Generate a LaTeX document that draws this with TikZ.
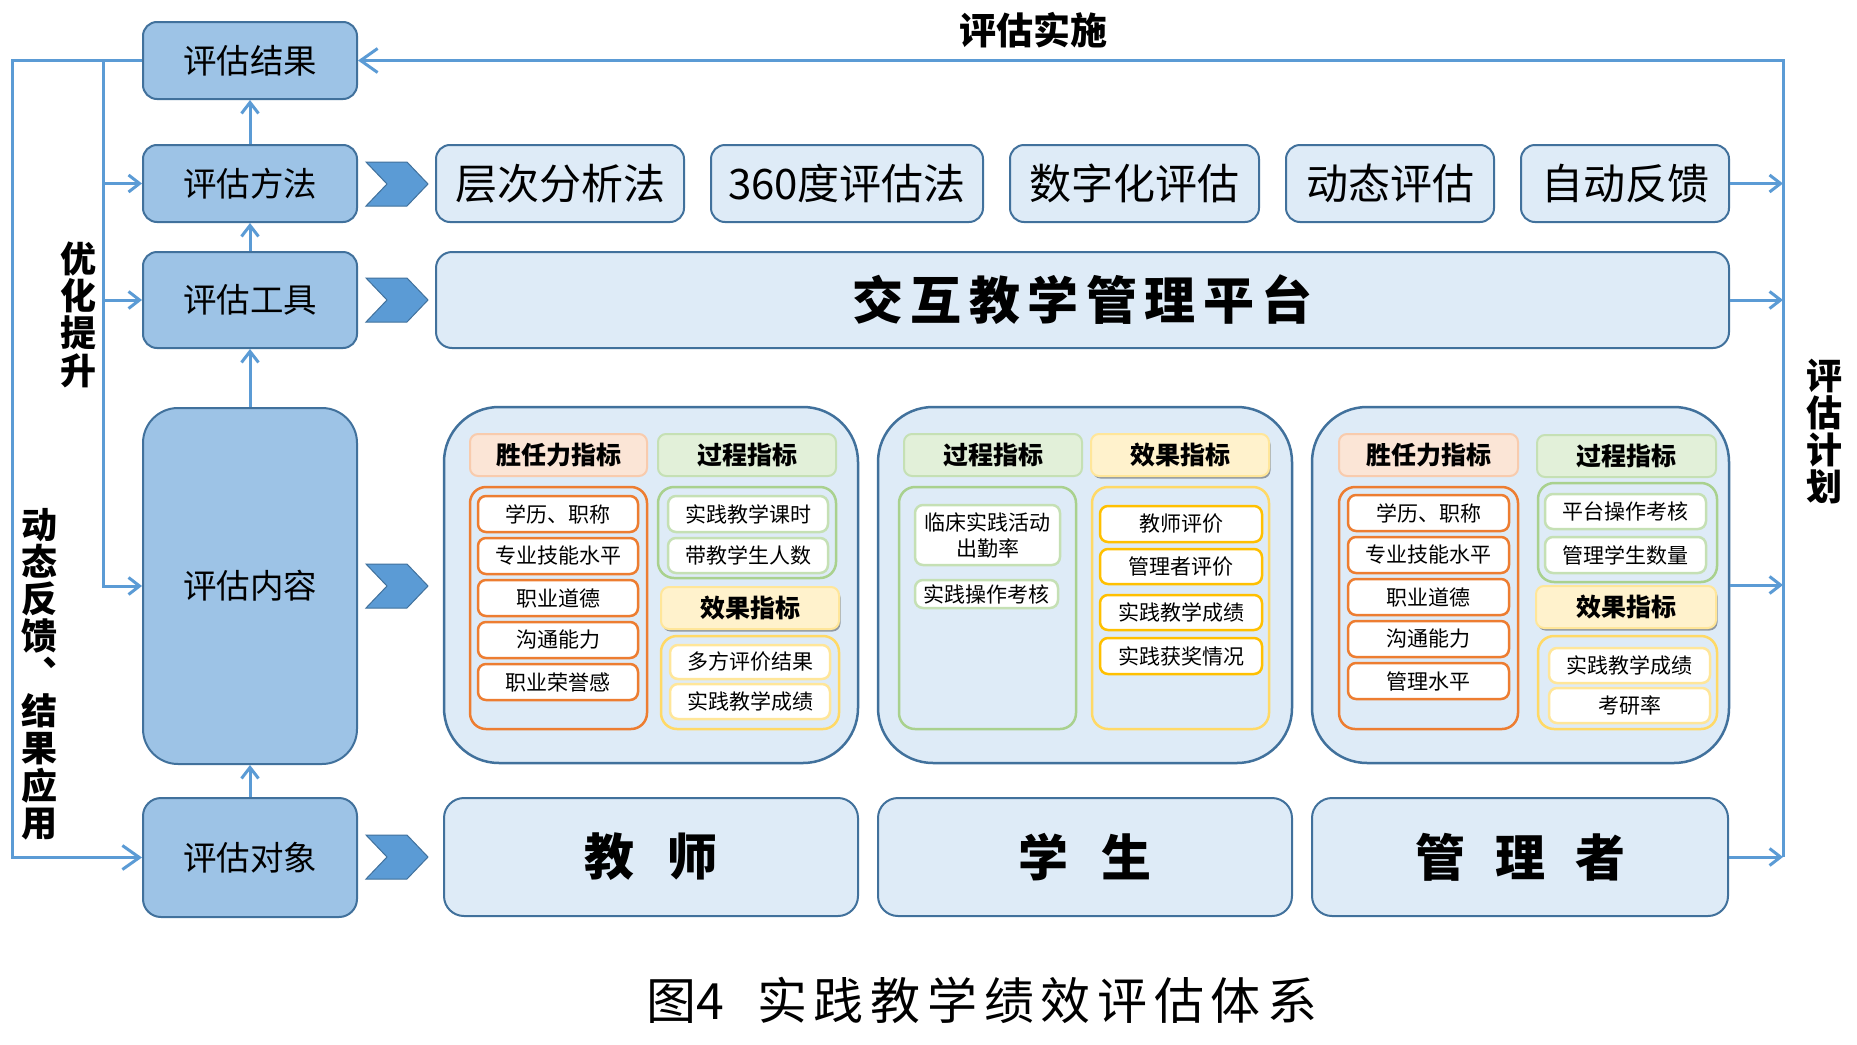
\documentclass[tikz,border=0pt]{standalone}
\usepackage{fontspec}
\setmainfont{Noto Sans CJK SC}
\usetikzlibrary{arrows.meta,shadows}
\definecolor{dkfill}{HTML}{9DC3E6}
\definecolor{bord}{HTML}{41719C}
\definecolor{ltfill}{HTML}{DEEBF7}
\definecolor{cblue}{HTML}{5B9BD5}
\definecolor{chevfill}{HTML}{5B9BD5}
\definecolor{peachF}{HTML}{FBE5D6}
\definecolor{peachB}{HTML}{F8CBAD}
\definecolor{greenF}{HTML}{E2F0D9}
\definecolor{greenB}{HTML}{C5E0B4}
\definecolor{greenC}{HTML}{A9D18E}
\definecolor{yelF}{HTML}{FFF2CC}
\definecolor{yelB}{HTML}{FFE699}
\definecolor{yelC}{HTML}{FFD966}
\definecolor{orangeB}{HTML}{ED7D31}
\definecolor{goldB}{HTML}{FFC000}
\newcommand\mkbox[7]{%
  \pgfmathsetmacro\mkw{#5-#3}%
  \pgfmathsetmacro\mkh{#6-#4}%
  \pgfmathsetmacro\mkx{(#3+#5)/2}%
  \pgfmathsetmacro\mky{(#4+#6)/2}%
  \node[#2,minimum width=\mkw pt,minimum height=\mkh pt,inner sep=0pt] (#1) at (\mkx,\mky) {#7};}
\newcommand\mkchev[1]{%
  \draw[fill=chevfill,draw=bord,line width=1pt] (366,#1-22) -- (407,#1-22) -- (428,#1) -- (407,#1+22) -- (366,#1+22) -- (387,#1) -- cycle;}
\tikzset{
  darkbox/.style={draw=bord,fill=dkfill,line width=2pt,rounded corners=14pt,font=\fontsize{33.5}{40}\selectfont},
  litebox/.style={draw=bord,fill=ltfill,line width=2pt,rounded corners=14pt,font=\fontsize{42}{48}\selectfont},
  panelbox/.style={draw=bord,fill=ltfill,line width=2.5pt,rounded corners=55pt},
  hdr/.style={line width=2pt,rounded corners=8pt,font=\bfseries\fontsize{25}{30}\selectfont},
  hpeach/.style={hdr,draw=peachB,fill=peachF},
  hgreen/.style={hdr,draw=greenB,fill=greenF},
  hyel/.style={hdr,draw=yelB,fill=yelF,drop shadow={shadow xshift=1.5pt,shadow yshift=-2.5pt,fill=black,opacity=0.35}},
  grpbox/.style={line width=2.5pt,rounded corners=16pt,fill=ltfill},
  gorange/.style={grpbox,draw=orangeB},
  ggreen/.style={grpbox,draw=greenC},
  gyel/.style={grpbox,draw=yelC},
  itembox/.style={fill=white,rounded corners=8pt,line width=2.5pt,font=\fontsize{21}{26}\selectfont,align=center},
  iorange/.style={itembox,draw=orangeB},
  igreen/.style={itembox,draw=greenB},
  iyel/.style={itembox,draw=yelB},
  igold/.style={itembox,draw=goldB},
  cline/.style={draw=cblue,line width=3pt},
  sarr/.style={-{Straight Barb[length=11pt,width=17pt]}},
  barr/.style={-{Straight Barb[length=17pt,width=24pt]}},
  vlab/.style={font=\bfseries\fontsize{36}{37.3}\selectfont,align=center,inner sep=0pt},
}
\begin{document}
\begin{tikzpicture}[x=1pt,y=-1pt]
\fill[white] (0,0) rectangle (1857,1044);
\useasboundingbox (0,0) rectangle (1857,1044);

% left column
\mkbox{res}{darkbox}{143}{22}{357}{99}{评估结果}
\mkbox{meth}{darkbox}{143}{145}{357}{222}{评估方法}
\mkbox{tool}{darkbox}{143}{252}{357}{348}{评估工具}
\mkbox{cont}{darkbox,rounded corners=35pt}{143}{408}{357}{764}{评估内容}
\mkbox{obj}{darkbox,rounded corners=18pt}{143}{798}{357}{917}{评估对象}

% chevrons
\mkchev{184}
\mkchev{300}
\mkchev{586}
\mkchev{857}

% method row
\mkbox{m1}{litebox}{436}{145}{684}{222}{层次分析法}
\mkbox{m2}{litebox}{711}{145}{983}{222}{360度评估法}
\mkbox{m3}{litebox}{1010}{145}{1259}{222}{数字化评估}
\mkbox{m4}{litebox}{1286}{145}{1494}{222}{动态评估}
\mkbox{m5}{litebox}{1521}{145}{1729}{222}{自动反馈}

% platform
\mkbox{plat}{litebox,rounded corners=16pt,font=\bfseries\fontsize{51}{56}\selectfont}{436}{252}{1729}{348}{交\hspace{7.5pt}互\hspace{7.5pt}教\hspace{7.5pt}学\hspace{7.5pt}管\hspace{7.5pt}理\hspace{7.5pt}平\hspace{7.5pt}台}

% panels
\mkbox{p1}{panelbox}{444}{407}{858}{763}{}
\mkbox{p2}{panelbox}{878}{407}{1292}{763}{}
\mkbox{p3}{panelbox}{1312}{407}{1729}{763}{}

% panel 1
\mkbox{p1h1}{hpeach}{470}{434}{647}{476}{胜任力指标}
\mkbox{p1h2}{hgreen}{658}{434}{836}{476}{过程指标}
\mkbox{p1g1}{gorange}{470}{487}{647}{729}{}
\mkbox{p1a}{iorange}{478}{496}{638}{532}{学历、职称}
\mkbox{p1b}{iorange}{478}{538}{638}{574}{专业技能水平}
\mkbox{p1c}{iorange}{478}{580}{638}{616}{职业道德}
\mkbox{p1d}{iorange}{478}{622}{638}{658}{沟通能力}
\mkbox{p1e}{iorange}{478}{664}{638}{700}{职业荣誉感}
\mkbox{p1g2}{ggreen}{658}{487}{836}{578}{}
\mkbox{p1f}{igreen}{668}{496}{828}{532}{实践教学课时}
\mkbox{p1g}{igreen}{668}{538}{828}{573}{带教学生人数}
\mkbox{p1h3}{hyel}{661}{587}{839}{629}{效果指标}
\mkbox{p1g3}{gyel}{661}{636}{839}{729}{}
\mkbox{p1h}{iyel}{670}{645}{830}{679}{多方评价结果}
\mkbox{p1i}{iyel}{670}{684}{830}{719}{实践教学成绩}

% panel 2
\mkbox{p2h1}{hgreen}{904}{434}{1082}{476}{过程指标}
\mkbox{p2h2}{hyel}{1091}{434}{1269}{476}{效果指标}
\mkbox{p2g1}{ggreen}{899}{487}{1076}{729}{}
\mkbox{p2a}{igreen}{915}{505}{1060}{565}{临床实践活动\\出勤率}
\mkbox{p2b}{igreen}{915}{580}{1058}{608}{实践操作考核}
\mkbox{p2g2}{gyel}{1092}{487}{1269}{729}{}
\mkbox{p2c}{igold}{1100}{506}{1262}{542}{教师评价}
\mkbox{p2d}{igold}{1100}{549}{1262}{584}{管理者评价}
\mkbox{p2e}{igold}{1100}{595}{1262}{630}{实践教学成绩}
\mkbox{p2f}{igold}{1100}{638}{1262}{674}{实践获奖情况}

% panel 3
\mkbox{p3h1}{hpeach}{1339}{434}{1518}{476}{胜任力指标}
\mkbox{p3h2}{hgreen}{1537}{435}{1716}{477}{过程指标}
\mkbox{p3g1}{gorange}{1339}{487}{1518}{729}{}
\mkbox{p3a}{iorange}{1348}{495}{1509}{531}{学历、职称}
\mkbox{p3b}{iorange}{1348}{537}{1509}{573}{专业技能水平}
\mkbox{p3c}{iorange}{1348}{579}{1509}{615}{职业道德}
\mkbox{p3d}{iorange}{1348}{621}{1509}{657}{沟通能力}
\mkbox{p3e}{iorange}{1348}{663}{1509}{699}{管理水平}
\mkbox{p3g2}{ggreen}{1538}{483}{1717}{582}{}
\mkbox{p3f}{igreen}{1545}{494}{1706}{529}{平台操作考核}
\mkbox{p3g}{igreen}{1545}{537}{1706}{573}{管理学生数量}
\mkbox{p3h3}{hyel}{1536}{586}{1716}{628}{效果指标}
\mkbox{p3g3}{gyel}{1538}{636}{1717}{729}{}
\mkbox{p3h}{iyel}{1549}{648}{1710}{683}{实践教学成绩}
\mkbox{p3i}{iyel}{1549}{688}{1710}{723}{考研率}

% bottom row
\mkbox{tch}{litebox,rounded corners=20pt,font=\bfseries\fontsize{50}{56}\selectfont}{444}{798}{858}{916}{教\hspace{33pt}师}
\mkbox{stu}{litebox,rounded corners=20pt,font=\bfseries\fontsize{50}{56}\selectfont}{878}{798}{1292}{916}{学\hspace{33pt}生}
\mkbox{mgr}{litebox,rounded corners=20pt,font=\bfseries\fontsize{50}{56}\selectfont}{1312}{798}{1728}{916}{管\hspace{30pt}理\hspace{30pt}者}

% labels
\node[font=\bfseries\fontsize{37}{40}\selectfont,inner sep=0pt] (impl) at (1033.5,30.5) {评估实施};
\node[vlab] (opt) at (78.5,314.5) {优\\化\\提\\升};
\node[vlab] (dyn) at (39,674) {动\\态\\反\\馈\\︑\\结\\果\\应\\用};
\node[vlab] (plan) at (1824.5,431.5) {评\\估\\计\\划};
\node[font=\fontsize{50}{56}\selectfont,inner sep=0pt] (cap) at (982,1000) {图4\hspace{33pt}实\hspace{6.7pt}践\hspace{6.7pt}教\hspace{6.7pt}学\hspace{6.7pt}绩\hspace{6.7pt}效\hspace{6.7pt}评\hspace{6.7pt}估\hspace{6.7pt}体\hspace{6.7pt}系};

% connectors
\coordinate (rtop) at (1783,60.5);
\coordinate (ltop) at (12,60.5);
\coordinate (itop) at (103,60.5);
\draw[cline,barr] (rtop |- mgr.east) -- (rtop) -- (res.east);
\draw[cline,sarr] (m5.east) -- (m5.east -| rtop);
\draw[cline,sarr] (plat.east) -- (plat.east -| rtop);
\draw[cline,sarr] (p3.east) -- (p3.east -| rtop);
\draw[cline,sarr] (mgr.east) -- (mgr.east -| rtop);
\draw[cline,barr] (res.west) -- (ltop) |- (obj.west);
\draw[cline] (res.west) -- (itop);
\draw[cline,sarr] (itop) |- (cont.west);
\draw[cline,sarr] (itop |- meth.west) -- (meth.west);
\draw[cline,sarr] (itop |- tool.west) -- (tool.west);
\draw[cline,sarr] (meth.north) -- (res.south);
\draw[cline,sarr] (tool.north) -- (meth.south);
\draw[cline,sarr] (cont.north) -- (tool.south);
\draw[cline,sarr] (obj.north) -- (cont.south);
\end{tikzpicture}
\end{document}
